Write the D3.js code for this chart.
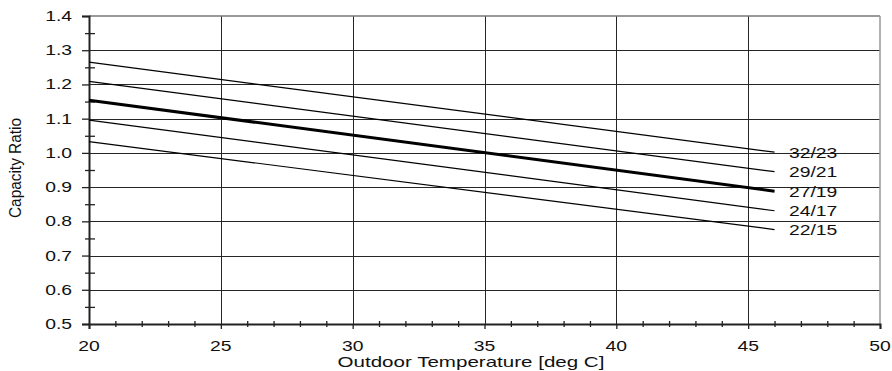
<!DOCTYPE html>
<html><head><meta charset="utf-8">
<script src="https://cdn.jsdelivr.net/npm/d3@7"></script>
<style>body{margin:0;background:#fff}svg{display:block}text{font-family:Arial,"Liberation Sans",sans-serif;fill:#111}</style>
</head><body><svg id="c" width="892" height="371"></svg>
<script>
const xStart = 20, xEnd = 46;
const seriesNames = ["32/23","29/21","27/19","24/17","22/15"];
const startValues = [1.265, 1.209, 1.154, 1.096, 1.033];
const endValues   = [1.002, 0.945, 0.888, 0.831, 0.776];
const boldSeries = ["27/19"];
const xTicks = [20,25,30,35,40,45,50];
const yTicks = [0.5,0.6,0.7,0.8,0.9,1.0,1.1,1.2,1.3,1.4];
const xLabel = "Outdoor Temperature [deg C]";
const yLabel = "Capacity Ratio";

const svg = d3.select("#c");
const x = d3.scaleLinear().domain([20,50]).range([89,880]);
const y = d3.scaleLinear().domain([0.5,1.4]).range([324,16]);
const SX = 1.38;

function label(g, txt, px, py, anchor, size, sx){
  g.append("text").attr("transform",`translate(${px},${py}) scale(${sx},1)`)
   .attr("text-anchor",anchor).attr("font-size",size).text(txt);
}

// grid
const grid = svg.append("g").attr("stroke","#262626").attr("stroke-width",1);
xTicks.slice(1,-1).forEach(t=>grid.append("line").attr("x1",Math.round(x(t))+0.5).attr("x2",Math.round(x(t))+0.5).attr("y1",y(1.4)).attr("y2",y(0.5)));
yTicks.slice(1,-1).forEach(t=>grid.append("line").attr("y1",Math.round(y(t))+0.5).attr("y2",Math.round(y(t))+0.5).attr("x1",x(20)).attr("x2",x(50)));
// top and right border
svg.append("line").attr("x1",x(20)).attr("x2",x(50)).attr("y1",y(1.4)).attr("y2",y(1.4)).attr("stroke","#777").attr("stroke-width",1.5);
svg.append("line").attr("x1",x(50)).attr("x2",x(50)).attr("y1",y(1.4)).attr("y2",y(0.5)).attr("stroke","#999").attr("stroke-width",1.5);

// axes with d3
const yAxis = svg.append("g").attr("transform",`translate(${x(20)},0)`)
  .call(d3.axisLeft(y).tickValues(yTicks).tickSize(7).tickFormat(""));
const yMinor = svg.append("g").attr("transform",`translate(${x(20)+6},0)`)
  .call(d3.axisLeft(y).tickValues(d3.range(0.55,1.4,0.1)).tickSize(10).tickFormat(""));
yMinor.select(".domain").remove();
const xAxis = svg.append("g").attr("transform",`translate(0,${y(0.5)})`)
  .call(d3.axisBottom(x).tickValues(xTicks).tickSize(5).tickFormat(""));
const xMinor = svg.append("g").attr("transform",`translate(0,${y(0.5)-3})`)
  .call(d3.axisBottom(x).tickValues(d3.range(21,50,1).filter(v=>v%5!==0)).tickSize(6).tickFormat(""));
xMinor.select(".domain").remove();
[yAxis,xAxis].forEach(a=>a.select(".domain").attr("stroke","#222").attr("stroke-width",2));
svg.selectAll(".tick line").attr("stroke","#222").attr("stroke-width",1.3);

// tick labels
const tl = svg.append("g");
yTicks.forEach(t=>label(tl, t.toFixed(1), 72, y(t)+5, "end", 14, SX));
xTicks.forEach(t=>label(tl, String(t), x(t), 351, "middle", 14, SX));
label(tl, xLabel, 471, 367, "middle", 15, 1.37);
tl.append("text").attr("transform","translate(21,168) rotate(-90)")
  .attr("text-anchor","middle").attr("font-size",16)
  .attr("textLength",100).attr("lengthAdjust","spacingAndGlyphs").text(yLabel);

// series
const lines = svg.append("g");
seriesNames.forEach((n,i)=>{
  const pts = [[xStart,startValues[i]],[xEnd,endValues[i]]];
  lines.append("path").attr("d", d3.line().x(d=>x(d[0])).y(d=>y(d[1]))(pts))
    .attr("fill","none").attr("stroke","#000")
    .attr("stroke-width", boldSeries.includes(n)?3:1.2);
  label(lines, n, 789, y(endValues[i])+5.5, "start", 14, SX);
});
</script></body></html>
